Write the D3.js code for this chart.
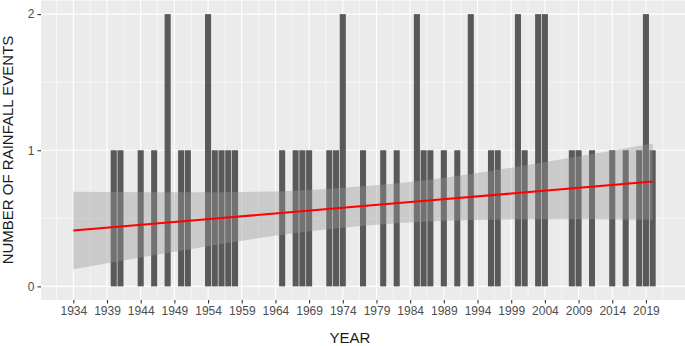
<!DOCTYPE html>
<html>
<head>
<meta charset="utf-8">
<script src="https://cdn.jsdelivr.net/npm/d3@7"></script>
<style>
  body { margin: 0; background: #fff; }
  svg { display: block; font-family: "Liberation Sans", Arial, sans-serif; }
</style>
</head>
<body>
<svg width="685" height="346"></svg>
<script>
"use strict";

// years with rainfall events and their counts
const eventYears  = [1940, 1941, 1944, 1946, 1948, 1950, 1951, 1954, 1955, 1956, 1957, 1958,
                     1965, 1967, 1968, 1969, 1972, 1973, 1974, 1977, 1980, 1982, 1985, 1986,
                     1987, 1989, 1991, 1993, 1996, 1997, 2000, 2001, 2003, 2004, 2008, 2009,
                     2011, 2014, 2016, 2018, 2019, 2020];
const eventCounts = [1, 1, 1, 1, 2, 1, 1, 2, 1, 1, 1, 1,
                     1, 1, 1, 1, 1, 1, 2, 1, 1, 1, 2, 1,
                     1, 1, 1, 2, 1, 1, 2, 1, 2, 2, 1, 1,
                     1, 1, 1, 1, 2, 1];

// linear trend and its confidence band
const trendYears = [1934, 1945, 1956, 1967, 1977, 1988, 1999, 2010, 2020];
const trendFit   = [0.41, 0.456, 0.502, 0.548, 0.59, 0.636, 0.682, 0.728, 0.77];
const bandLow    = [0.125, 0.221, 0.312, 0.393, 0.445, 0.481, 0.492, 0.493, 0.49];
const bandHigh   = [0.695, 0.691, 0.692, 0.703, 0.735, 0.791, 0.872, 0.963, 1.05];

const xTicks = d3.range(1934, 2020, 5);
const yTicks = [0, 1, 2];

let svg = d3.select('svg');
let margin = {top: 0.5, right: 0, bottom: 46, left: 41};
let width = +svg.attr('width');
let height = +svg.attr('height');

let x = d3.scaleLinear([1929.2, 2024.8], [margin.left, width - margin.right]);
let y = d3.scaleLinear([-0.1, 2.1], [height - margin.bottom, margin.top]);

// panel
svg.append("rect")
  .attr("x", x.range()[0]).attr("y", y.range()[1])
  .attr("width", x.range()[1] - x.range()[0])
  .attr("height", y.range()[0] - y.range()[1])
  .attr("fill", "#EBEBEB");

let grid = svg.append("g").attr("stroke", "#fff");
let xMinor = d3.range(1931.5, 2024, 5);
grid.selectAll(".xm").data(xMinor).join("line")
  .attr("x1", d => x(d)).attr("x2", d => x(d))
  .attr("y1", y.range()[0]).attr("y2", y.range()[1])
  .attr("stroke-width", 0.55);
grid.selectAll(".ym").data([0.5, 1.5]).join("line")
  .attr("x1", x.range()[0]).attr("x2", x.range()[1])
  .attr("y1", d => y(d)).attr("y2", d => y(d))
  .attr("stroke-width", 0.55);
grid.selectAll(".xM").data(xTicks).join("line")
  .attr("x1", d => x(d)).attr("x2", d => x(d))
  .attr("y1", y.range()[0]).attr("y2", y.range()[1])
  .attr("stroke-width", 1.1);
grid.selectAll(".yM").data(yTicks).join("line")
  .attr("x1", x.range()[0]).attr("x2", x.range()[1])
  .attr("y1", d => y(d)).attr("y2", d => y(d))
  .attr("stroke-width", 1.1);

// bars
let bars = eventYears.map((yr, i) => ({year: yr, count: eventCounts[i]}));
svg.append("g").attr("fill", "#595959")
  .selectAll("rect").data(bars).join("rect")
  .attr("x", d => x(d.year - 0.45))
  .attr("width", d => x(d.year + 0.45) - x(d.year - 0.45))
  .attr("y", d => y(d.count))
  .attr("height", d => y(0) - y(d.count));

// confidence band
let band = trendYears.map((yr, i) => ({year: yr, lo: bandLow[i], hi: bandHigh[i]}));
svg.append("path")
  .datum(band)
  .attr("fill", "#999999")
  .attr("fill-opacity", 0.4)
  .attr("d", d3.area()
    .curve(d3.curveMonotoneX)
    .x(d => x(d.year))
    .y0(d => y(d.lo))
    .y1(d => y(d.hi)));

// trend line
svg.append("path")
  .datum(trendYears.map((yr, i) => [yr, trendFit[i]]))
  .attr("fill", "none")
  .attr("stroke", "#FF0000")
  .attr("stroke-width", 2.1)
  .attr("d", d3.line().x(d => x(d[0])).y(d => y(d[1])));

// axes
let xAxis = svg.append("g")
  .attr("transform", `translate(0,${y.range()[0]})`)
  .call(d3.axisBottom(x).tickValues(xTicks).tickFormat(d3.format("d")).tickSizeOuter(0).tickSize(3.5).tickPadding(3));
let yAxis = svg.append("g")
  .attr("transform", `translate(${margin.left},0)`)
  .call(d3.axisLeft(y).tickValues(yTicks).tickFormat(d3.format("d")).tickSizeOuter(0).tickSize(3.5).tickPadding(3));
for (let g of [xAxis, yAxis]) {
  g.select(".domain").remove();
  g.selectAll(".tick line").attr("stroke", "#333333").attr("stroke-width", 1.1);
  g.selectAll(".tick text").attr("fill", "#4D4D4D").style("font-size", "12px");
}

svg.append("text")
  .attr("x", 350).attr("y", 343)
  .attr("text-anchor", "middle")
  .attr("fill", "#1a1a1a")
  .style("font-size", "15px")
  .text("YEAR");

svg.append("text")
  .attr("transform", `translate(13,${150}) rotate(-90)`)
  .attr("text-anchor", "middle")
  .attr("fill", "#1a1a1a")
  .style("font-size", "15px")
  .text("NUMBER OF RAINFALL EVENTS");
</script>
</body>
</html>
